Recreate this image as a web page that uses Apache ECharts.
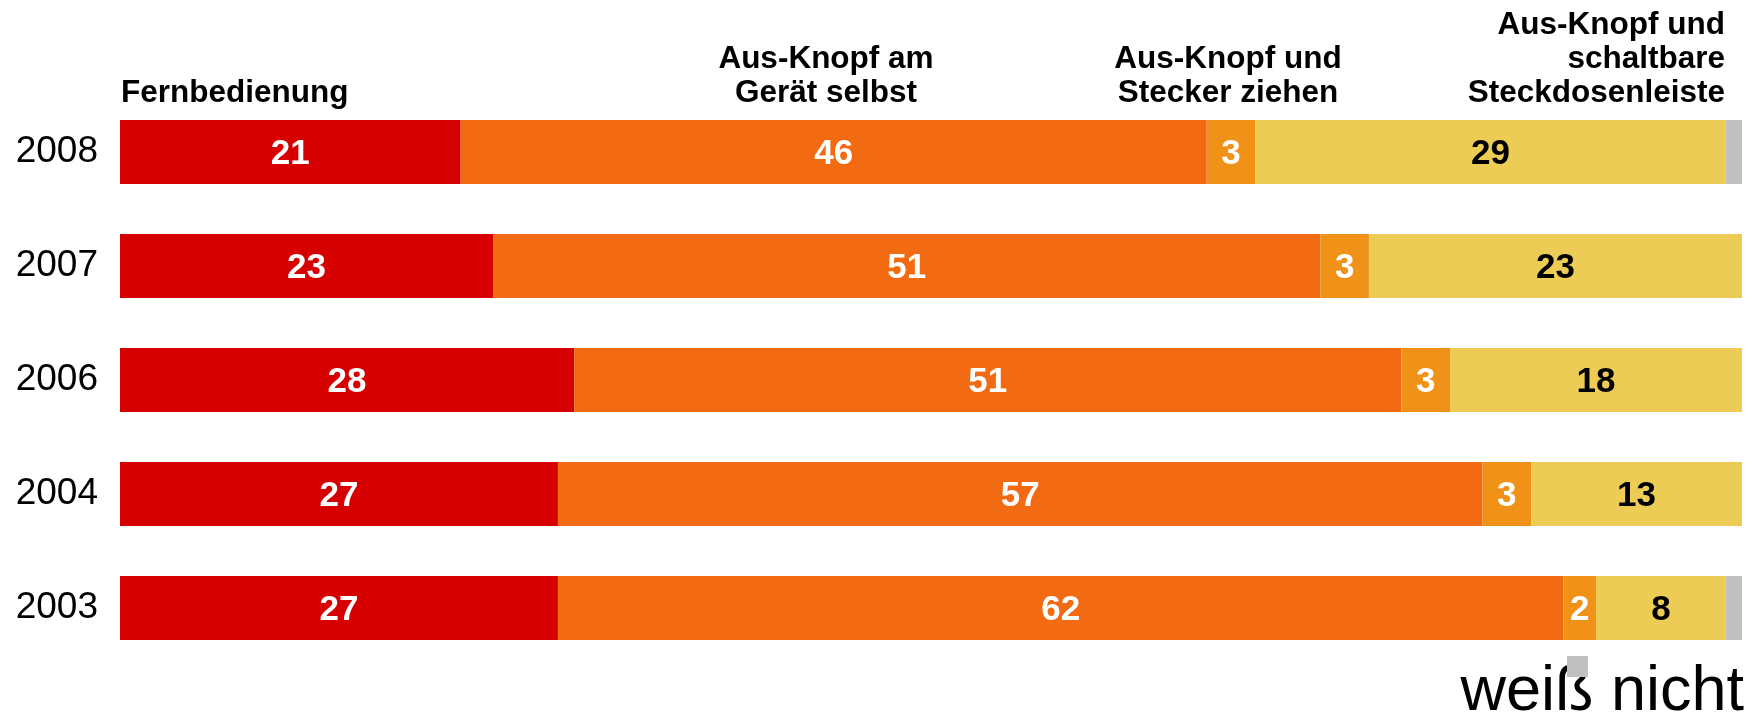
<!DOCTYPE html>
<html>
<head>
<meta charset="utf-8">
<script src="https://cdn.jsdelivr.net/npm/echarts@6/dist/echarts.min.js"></script>
<style>
  html, body { margin: 0; padding: 0; background: #fff; }
  #main { width: 1753px; height: 712px; }
</style>
</head>
<body>
<div id="main"></div>
<script>
// Jahre, von oben nach unten
var years = ['2008', '2007', '2006', '2004', '2003'];

// Antworten in Prozent
var fernbedienung = [21, 23, 28, 27, 27];
var knopfGeraet   = [46, 51, 51, 57, 62];
var knopfStecker  = [3, 3, 3, 3, 2];
var knopfLeiste   = [29, 23, 18, 13, 8];
var weissNicht    = [1, 0, 0, 0, 1];

var seriesNames = [
    'Fernbedienung',
    'Aus-Knopf am Gerät selbst',
    'Aus-Knopf und Stecker ziehen',
    'Aus-Knopf und schaltbare Steckdosenleiste',
    'weiß nicht'
];
var colors = ['#d70000', '#f26b12', '#f09218', '#edcc55', '#c0c0c0'];
var labelColors = ['#fff', '#fff', '#fff', '#000', '#000'];

var FONT = '"Liberation Sans", Arial, sans-serif';

var makeSeries = function (i, values, showLabel) {
    return {
        name: seriesNames[i],
        type: 'bar',
        stack: 'total',
        barWidth: 64,
        data: values,
        itemStyle: { color: colors[i] },
        label: {
            show: showLabel,
            position: 'inside',
            offset: [0, 2],
            color: labelColors[i],
            fontFamily: FONT,
            fontWeight: 'bold',
            fontSize: 35,
            formatter: '{c}'
        },
        emphasis: { disabled: true }
    };
};

var headerStyle = function (text, align) {
    return {
        text: text,
        fill: '#000',
        font: 'bold 31.5px ' + FONT,
        lineHeight: 34,
        align: align,
        verticalAlign: 'bottom'
    };
};

var chart = echarts.init(document.getElementById('main'));
var option = {
    animation: false,
    grid: { left: 120, right: 11, top: 95, bottom: 47 },
    xAxis: { type: 'value', min: 0, max: 100, show: false },
    yAxis: {
        type: 'category',
        data: years,
        inverse: true,
        axisLine: { show: false },
        axisTick: { show: false },
        axisLabel: {
            color: '#000',
            fontFamily: FONT,
            fontSize: 37,
            margin: 22
        }
    },
    legend: {
        data: ['weiß nicht'],
        left: 1567,
        top: 656,
        icon: 'rect',
        itemWidth: 21,
        itemHeight: 21,
        padding: 0,
        selectedMode: false,
        formatter: function () { return ''; },
        z: 10
    },
    series: [
        makeSeries(0, fernbedienung, true),
        makeSeries(1, knopfGeraet, true),
        makeSeries(2, knopfStecker, true),
        makeSeries(3, knopfLeiste, true),
        makeSeries(4, weissNicht, false)
    ],
    graphic: [
        { type: 'text', x: 121, y: 110, style: headerStyle('Fernbedienung', 'left') },
        { type: 'text', x: 826, y: 110, style: headerStyle('Aus-Knopf am\nGerät selbst', 'center') },
        { type: 'text', x: 1228, y: 110, style: headerStyle('Aus-Knopf und\nStecker ziehen', 'center') },
        { type: 'text', x: 1725, y: 110, style: headerStyle('Aus-Knopf und\nschaltbare\nSteckdosenleiste', 'right') },
        {
            type: 'text', x: 1744, y: 724, z: 1,
            style: {
                text: 'weiß nicht',
                fill: '#000',
                font: '63px ' + FONT,
                align: 'right',
                verticalAlign: 'bottom'
            }
        }
    ]
};
chart.setOption(option);
</script>
</body>
</html>
